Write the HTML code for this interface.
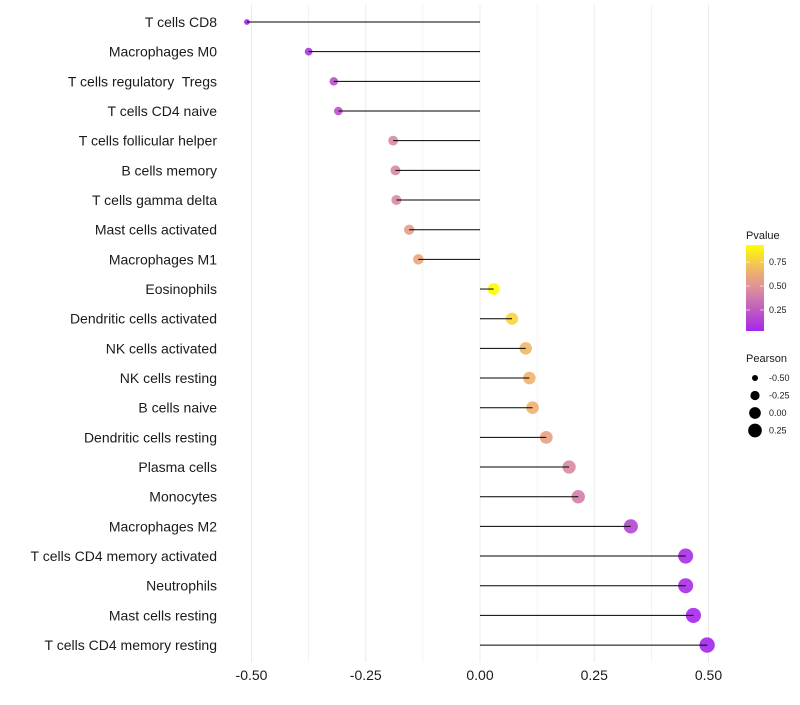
<!DOCTYPE html>
<html><head><meta charset="utf-8"><style>
body{margin:0;background:#fff;}
svg text{font-family:"Liberation Sans",sans-serif;white-space:pre;}
</style></head><body>
<svg id="chart" width="800" height="700" xmlns="http://www.w3.org/2000/svg"></svg>
<script>
const categories=["T cells CD8","Macrophages M0","T cells regulatory  Tregs","T cells CD4 naive","T cells follicular helper","B cells memory","T cells gamma delta","Mast cells activated","Macrophages M1","Eosinophils","Dendritic cells activated","NK cells activated","NK cells resting","B cells naive","Dendritic cells resting","Plasma cells","Monocytes","Macrophages M2","T cells CD4 memory activated","Neutrophils","Mast cells resting","T cells CD4 memory resting"];
const pearson=[-0.51,-0.375,-0.32,-0.31,-0.19,-0.185,-0.183,-0.155,-0.135,0.03,0.07,0.10,0.108,0.115,0.145,0.195,0.215,0.33,0.45,0.45,0.467,0.497];
const pvalues=[0.02,0.1,0.2,0.21,0.45,0.45,0.45,0.55,0.6,0.92,0.78,0.68,0.66,0.65,0.57,0.45,0.4,0.16,0.06,0.06,0.04,0.02];
const xTicks=[-0.5,-0.25,0,0.25,0.5];
const xTickLabels=["-0.50","-0.25","0.00","0.25","0.50"];
const pTicks=[0.25,0.5,0.75];
const sizeLegend=[-0.5,-0.25,0,0.25];
const sizeLegendLabels=["-0.50","-0.25","0.00","0.25"];

const svg=document.getElementById('chart');
const NS="http://www.w3.org/2000/svg";
function mk(t,a,p){const e=document.createElementNS(NS,t);for(const k in a)e.setAttribute(k,a[k]);(p||svg).appendChild(e);return e;}
const x=v=>480+v*457;
const y=i=>22+i*29.67;
const r=v=>Math.sqrt(Math.max(4,34+50*v));
const stops=[[0,[160,32,240]],[0.45,[217,138,160]],[0.65,[238,176,112]],[0.93,[255,255,0]]];
function col(p){for(let i=1;i<stops.length;i++){if(p<=stops[i][0]||i==stops.length-1){const a=stops[i-1],b=stops[i];let t=(p-a[0])/(b[0]-a[0]);t=Math.max(0,Math.min(1,t));const c=a[1].map((v,k)=>Math.round(v+(b[1][k]-v)*t));return `rgb(${c})`;}}}
for(let v=-0.5;v<=0.5001;v+=0.125){
 const g=mk('line',{x1:x(v),x2:x(v),y1:5,y2:662,stroke:'#ebebeb','stroke-width':Math.abs((v*4)%1)<0.01?1:0.6});
 
 
}
xTicks.forEach((v,i)=>{
 const t=mk('text',{x:x(v),y:680,'text-anchor':'middle','font-size':14,fill:'#1a1a1a'});t.textContent=xTickLabels[i];
 
 
});
categories.forEach((c,i)=>{
 const t=mk('text',{x:217,y:y(i)+5,'text-anchor':'end','font-size':14,fill:'#1a1a1a'});t.textContent=c;
 
 
 const pt=mk('circle',{cx:x(pearson[i]),cy:y(i),r:r(pearson[i]),fill:col(pvalues[i]),'fill-opacity':0.9});
 
 
 const l=mk('line',{x1:x(0),x2:x(pearson[i]),y1:y(i),y2:y(i),stroke:'#000','stroke-width':1});
 
 
});
const defs=mk('defs',{});
const lg=mk('linearGradient',{id:'pg',x1:0,y1:1,x2:0,y2:0},defs);
[0.03,0.2,0.45,0.65,0.93].forEach(p=>mk('stop',{offset:(p-0.03)/0.9,'stop-color':col(p)},lg));
const lt=mk('text',{x:746,y:239,'font-size':11,fill:'#1a1a1a'});lt.textContent='Pvalue';


const bar=mk('rect',{x:746,y:245,width:18,height:86,fill:'url(#pg)'});


const py=p=>331-(p-0.03)/0.9*86;
pTicks.forEach(p=>{
 mk('line',{x1:746,x2:750,y1:py(p),y2:py(p),stroke:'#fff','stroke-opacity':0.6});
 mk('line',{x1:760,x2:764,y1:py(p),y2:py(p),stroke:'#fff','stroke-opacity':0.6});
 const t=mk('text',{x:769,y:py(p)+3,'font-size':9,fill:'#1a1a1a'});t.textContent=p.toFixed(2);
 
 
});
const st=mk('text',{x:746,y:362,'font-size':11,fill:'#1a1a1a'});st.textContent='Pearson';


sizeLegend.forEach((v,i)=>{
 const cy=378+i*17.5;
 const c=mk('circle',{cx:755,cy:cy,r:r(v),fill:'#000'});
 
 
 const t=mk('text',{x:769,y:cy+3,'font-size':9,fill:'#1a1a1a'});t.textContent=sizeLegendLabels[i];
 
 
});
</script>
</body></html>
